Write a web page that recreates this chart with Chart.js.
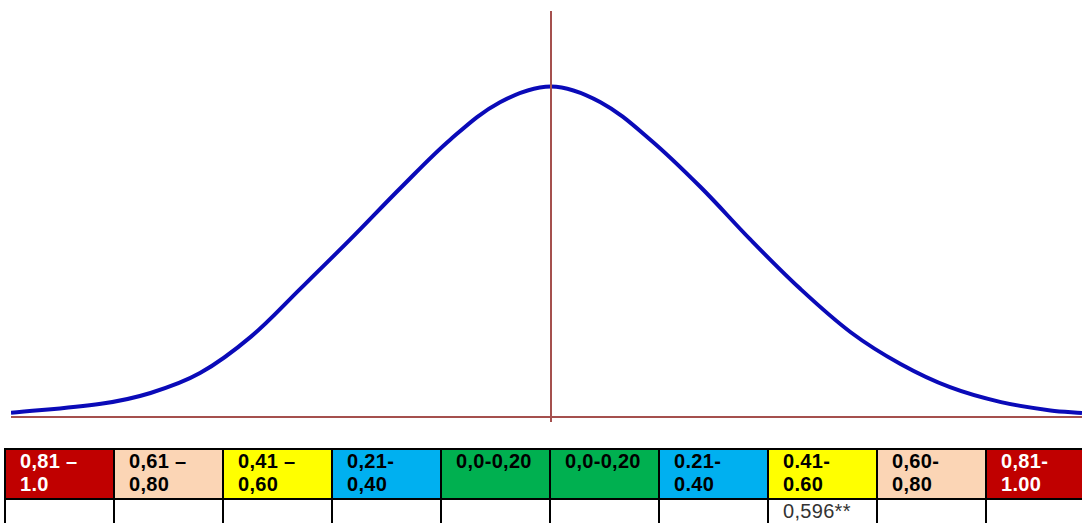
<!DOCTYPE html>
<html>
<head>
<meta charset="utf-8">
<script src="https://cdn.jsdelivr.net/npm/chart.js@4.4.1/dist/chart.umd.min.js"></script>
<style>
  html, body { margin: 0; padding: 0; background: #fff; overflow: hidden; }
  body { width: 1082px; height: 523px; position: relative; }
  #wrap { position: absolute; left: 0; top: 0; width: 1082px; height: 425px; }
  table { position: absolute; left: 4px; top: 448px; border-collapse: collapse; table-layout: fixed; width: 1090px; }
  td { border: 2px solid #000; width: 109px; padding: 0 0 0 14px; box-sizing: border-box; vertical-align: top;
       font-family: "Liberation Sans", Arial, sans-serif; font-size: 20px; line-height: 23px; letter-spacing: 0.3px; }
  tr.head td { height: 50px; font-weight: bold; }
  tr.note td { height: 30px; color: #333; font-weight: normal; }
</style>
</head>
<body>
<div id="wrap"><canvas id="chart"></canvas></div>
<table id="tbl"><tr class="head"></tr><tr class="note"></tr></table>
<script>
// curve: x in sigma-like units from the centre line, y = height above baseline
const curveX = [-3.6, -3.0, -2.67, -2.34, -2.0, -1.67, -1.34, -1.0, -0.67, -0.34, 0, 0.33, 0.66, 1.0, 1.33, 1.66, 2.0, 2.33, 2.66, 3.0, 3.33, 3.54];
const curveY = [0.005, 0.016, 0.029, 0.053, 0.097, 0.155, 0.214, 0.277, 0.335, 0.380, 0.399, 0.380, 0.335, 0.277, 0.214, 0.155, 0.102, 0.064, 0.036, 0.018, 0.008, 0.005];

// table under the curve
const rangeLabels = ["0,81 –\n1.0", "0,61 –\n0,80", "0,41 –\n0,60", "0,21-\n0,40", "0,0-0,20", "0,0-0,20", "0.21-\n0.40", "0.41-\n0.60", "0,60-\n0,80", "0,81-\n1.00"];
const noteValues = ["", "", "", "", "", "", "", "0,596**", "", ""];

const cellColors = ["#c00000", "#fbd5b5", "#ffff00", "#00b0f0", "#00b050", "#00b050", "#00b0f0", "#ffff00", "#fbd5b5", "#c00000"];
const cellText = ["#fff", "#000", "#000", "#000", "#000", "#000", "#000", "#000", "#000", "#fff"];

const X_MIN = -3.6, X_MAX = 3.54, Y_MIN = -0.006, Y_MAX = 0.49;

const curve = curveX.map((x, i) => ({ x: x, y: curveY[i] }));

const ctx = document.getElementById("chart").getContext("2d");
new Chart(ctx, {
  type: "line",
  data: {
    datasets: [
      { data: [{ x: X_MIN, y: 0 }, { x: X_MAX, y: 0 }], borderColor: "#a5504e", borderWidth: 2, pointRadius: 0, tension: 0 },
      { data: [{ x: 0, y: Y_MIN }, { x: 0, y: Y_MAX }], borderColor: "#a5504e", borderWidth: 2, pointRadius: 0, tension: 0 },
      { data: curve, borderColor: "#0a0ab8", borderWidth: 4, pointRadius: 0, tension: 0.35, fill: false }
    ]
  },
  options: {
    responsive: true,
    maintainAspectRatio: false,
    animation: false,
    layout: { padding: { left: 11, right: 0, top: 11, bottom: 3 } },
    plugins: { legend: { display: false }, tooltip: { enabled: false } },
    scales: {
      x: { type: "linear", min: X_MIN, max: X_MAX, display: false },
      y: { min: Y_MIN, max: Y_MAX, display: false }
    }
  }
});

// build the table
const rows = document.querySelectorAll("#tbl tr");
rangeLabels.forEach((lab, i) => {
  const td = document.createElement("td");
  td.style.background = cellColors[i];
  td.style.color = cellText[i];
  td.innerHTML = lab.replace("\n", "<br>");
  rows[0].appendChild(td);
  const td2 = document.createElement("td");
  td2.textContent = noteValues[i];
  rows[1].appendChild(td2);
});
</script>
</body>
</html>
